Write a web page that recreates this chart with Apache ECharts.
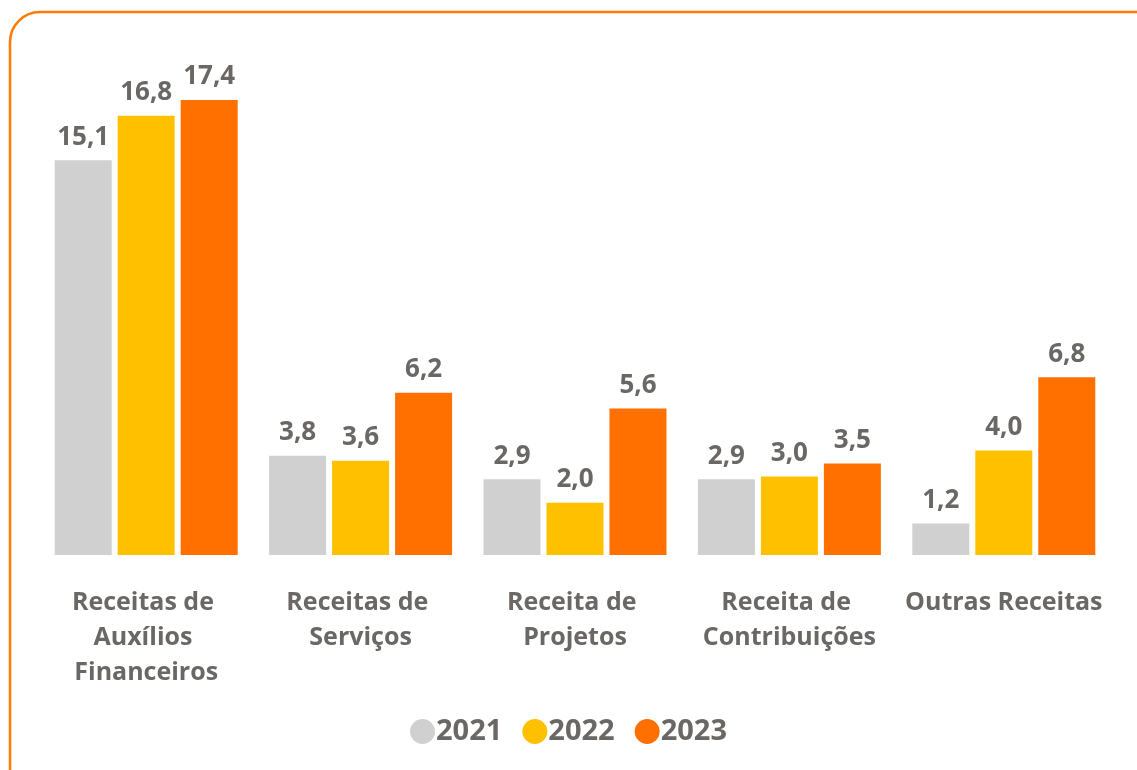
<!DOCTYPE html>
<html>
<head>
<meta charset="utf-8">
<script src="https://cdn.jsdelivr.net/npm/echarts@6/dist/echarts.min.js"></script>
<style>
html,body{margin:0;padding:0;background:#fff;}
#chart{width:1137px;height:770px;}
</style>
</head>
<body>
<div id="chart"></div>
<script>
const categories = ['Receitas de Auxílios Financeiros', 'Receitas de Serviços', 'Receita de Projetos', 'Receita de Contribuições', 'Outras Receitas'];
const years = ['2021', '2022', '2023'];
const values2021 = [15.1, 3.8, 2.9, 2.9, 1.2];
const values2022 = [16.8, 3.6, 2.0, 3.0, 4.0];
const values2023 = [17.4, 6.2, 5.6, 3.5, 6.8];
const colors = ['#D0D0D0', '#FFC000', '#FF7000'];

const textColor = '#6B6765';
const fontFamily = '"Open Sans", "Noto Sans", sans-serif';
const seriesData = [values2021, values2022, values2023];

const chart = echarts.init(document.getElementById('chart'));
chart.setOption({
  animation: false,
  backgroundColor: '#fff',
  graphic: [{
    type: 'rect',
    shape: { x: 10, y: 12, width: 1160, height: 800, r: 30 },
    style: { fill: 'none', stroke: '#FF7A00', lineWidth: 2.5 },
    silent: true,
    z: -1
  }],
  grid: { left: 39, right: 26, top: 32, bottom: 215, containLabel: false },
  legend: {
    data: years,
    top: 712,
    left: 'center',
    icon: 'circle',
    itemWidth: 25,
    itemHeight: 25,
    itemGap: 20,
    textStyle: { color: textColor, fontFamily: fontFamily, fontWeight: 'bold', fontSize: 29, padding: [0, 0, 0, -4] }
  },
  xAxis: {
    type: 'category',
    data: categories,
    axisLine: { show: false },
    axisTick: { show: false },
    axisLabel: {
      interval: 0,
      margin: 30,
      color: textColor,
      fontFamily: fontFamily,
      fontWeight: 'bold',
      fontSize: 25,
      lineHeight: 35,
      width: 212,
      overflow: 'break'
    }
  },
  yAxis: {
    type: 'value',
    min: 0,
    max: 20,
    show: false,
    splitLine: { show: false }
  },
  series: years.map((y, i) => ({
    name: y,
    type: 'bar',
    data: seriesData[i],
    itemStyle: { color: colors[i] },
    barWidth: 57,
    barGap: '10.5%',
    label: {
      show: true,
      position: 'top',
      distance: 10,
      color: textColor,
      fontFamily: fontFamily,
      fontWeight: 'bold',
      fontSize: 26,
      formatter: p => p.value.toFixed(1).replace('.', ',')
    }
  }))
});
</script>
</body>
</html>
